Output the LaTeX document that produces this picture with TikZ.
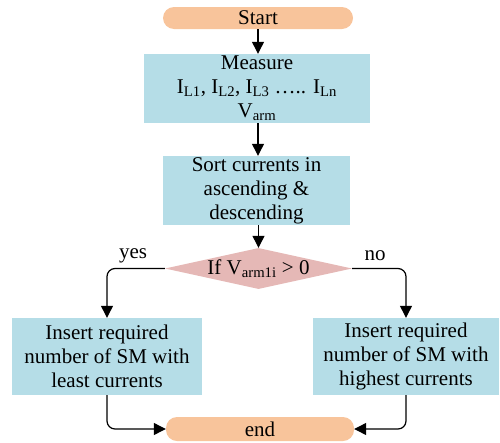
\documentclass[tikz,border=0pt]{standalone}
\usepackage{fontspec}
\setmainfont{Liberation Serif}
\usetikzlibrary{shapes.geometric,arrows.meta}
\definecolor{pillc}{HTML}{F8C49B}
\definecolor{boxc}{HTML}{B5DDE7}
\definecolor{diac}{HTML}{E5B8B6}
\tikzset{
  fnt/.style={font=\fontsize{21}{24}\selectfont},
  pill/.style={fill=pillc,rounded corners=11pt,inner sep=0pt,align=center,fnt},
  pbox/.style={fill=boxc,inner sep=0pt,align=center,fnt},
  dia/.style={diamond,fill=diac,inner sep=0pt,minimum width=187pt,minimum height=41pt},
  txt/.style={inner sep=0pt,fnt},
  arr/.style={line width=1.2pt,-{Triangle[length=12pt,width=12pt]}},
  rarr/.style={arr,rounded corners=8pt}
}
\begin{document}
\begin{tikzpicture}[x=1pt,y=-1pt]
\useasboundingbox (0,0) rectangle (500,442);
\node[pill,minimum width=190pt,minimum height=22pt] (start) at (258,18) {Start};
\node[pbox,minimum width=226pt,minimum height=69pt] (meas) at (257,88.5) {Measure\\I\textsubscript{L1}, I\textsubscript{L2}, I\textsubscript{L3} ….. I\textsubscript{Ln}\\V\textsubscript{arm}};
\node[pbox,minimum width=187pt,minimum height=69pt] (sort) at (256.5,190.5) {Sort currents in\\ascending \&\\descending};
\node[dia] (dec) at (258.5,268.5) {};
\node[txt] (dect) at (258.5,268.5) {If V\textsubscript{arm1i} {>} 0};
\node[pbox,minimum width=190pt,minimum height=77pt] (left) at (107,356.5) {Insert required\\number of SM with\\least currents};
\node[pbox,minimum width=186pt,minimum height=77pt] (right) at (406,356.5) {Insert required\\number of SM with\\highest currents};
\node[pill,minimum width=188pt,minimum height=24pt] (end) at (260,429) {end};
\draw[arr] (start.south) -- (start.south |- meas.north);
\draw[arr] (meas.south -| start.south) -- (start.south |- sort.north);
\draw[arr] (sort.south -| dec.north) -- (dec.north);
\draw[rarr] (dec.west) -| (left.north);
\draw[rarr] (dec.east) -| (right.north);
\draw[rarr] (left.south) |- (end.west);
\draw[rarr] (right.south) |- (end.east);
\node[txt] (yes) at (133,256) {yes};
\node[txt] (no) at (375,256) {no};
\end{tikzpicture}
\end{document}
